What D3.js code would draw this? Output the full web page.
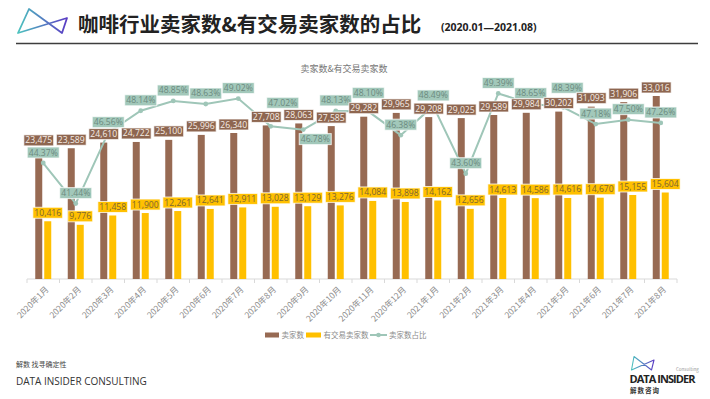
<!DOCTYPE html>
<meta charset="utf-8">
<style>
    body { margin: 0; background: #fff; font-family: 'Noto Sans CJK SC', 'Open Sans', sans-serif; }
    .lbl text { font-size: 8.6px; font-family: 'Open Sans', sans-serif; }
</style>
<svg width="710" height="399"></svg>
<script src="https://cdn.jsdelivr.net/npm/d3@7/dist/d3.min.js"></script>
<script>
    // data
    var months = ["2020年1月","2020年2月","2020年3月","2020年4月","2020年5月","2020年6月","2020年7月","2020年8月","2020年9月","2020年10月",
                  "2020年11月","2020年12月","2021年1月","2021年2月","2021年3月","2021年4月","2021年5月","2021年6月","2021年7月","2021年8月"];
    var sellers = [23475,23589,24610,24722,25100,25996,26340,27708,28063,27585,29282,29965,29208,29025,29589,29984,30202,31093,31906,33016];
    var traded  = [10416,9776,11458,11900,12261,12641,12911,13028,13129,13276,14084,13898,14162,12656,14613,14586,14616,14670,15155,15604];
    var ratio   = [44.37,41.44,46.56,48.14,48.85,48.63,49.02,47.02,46.78,48.13,48.10,46.38,48.49,43.60,49.39,48.65,48.39,47.18,47.50,47.26];

    var svg = d3.select("svg");
    var brown = "#976A53", yellow = "#FFC000", teal = "#9FC6B8";

    // header
    var grad = svg.append("defs").append("linearGradient").attr("id", "lg");
    grad.append("stop").attr("offset", "0%").attr("stop-color", "#4CC3BE");
    grad.append("stop").attr("offset", "100%").attr("stop-color", "#5B3CC4");
    function bowtie(g, tl, bl, rt, rb, w) {
        g.append("path")
            .attr("d", "M" + bl + "L" + tl + "L" + rb + "L" + rt + "Z")
            .attr("fill", "none").attr("stroke", "url(#lg)").attr("stroke-width", w)
            .attr("stroke-linejoin", "round");
    }
    bowtie(svg, [29, 9], [18, 33], [67, 18], [62, 33], 1.8);

    svg.append("text").attr("x", 78).attr("y", 32)
        .attr("font-size", "20.5px").attr("font-weight", "bold").attr("fill", "#222")
        .text("咖啡行业卖家数&有交易卖家数的占比");
    svg.append("text").attr("x", 441).attr("y", 31)
        .attr("font-size", "10.5px").attr("font-weight", "bold").attr("fill", "#222")
        .attr("font-family", "Open Sans")
        .text("(2020.01—2021.08)");
    svg.append("line").attr("x1", 16).attr("x2", 698).attr("y1", 43.5).attr("y2", 43.5)
        .attr("stroke", "#3d3d3d").attr("stroke-width", 1.5);

    svg.append("text").attr("x", 344).attr("y", 72).attr("text-anchor", "middle")
        .attr("font-size", "9px").attr("fill", "#777").text("卖家数&有交易卖家数");

    // scales
    var x0 = d3.scaleBand().domain(months).range([27, 677]).paddingInner(0.508).paddingOuter(0.254);
    var x1 = d3.scaleBand().domain(["s", "t"]).range([0, x0.bandwidth()]).paddingInner(0.222);
    var y = d3.scaleLinear().domain([0, 35000]).range([279, 85]);
    var yR = d3.scaleLinear().domain([36, 50]).range([279, 85]);
    var cx = function(i) { return x0(months[i]) + x0.bandwidth() / 2; };

    // x axis
    var ax = svg.append("g").attr("transform", "translate(0,279)");
    ax.append("line").attr("x1", 27).attr("x2", 677).attr("stroke", "#d9d9d9");
    ax.selectAll("line.tk").data(d3.range(months.length + 1)).enter().append("line")
        .attr("class", "tk")
        .attr("x1", function(i) { return 27 + i * x0.step(); })
        .attr("x2", function(i) { return 27 + i * x0.step(); })
        .attr("y2", 4).attr("stroke", "#d9d9d9");
    ax.selectAll("text").data(months).enter().append("text")
        .attr("transform", function(d, i) { return "translate(" + (cx(i) + 4) + ",9) rotate(-45)"; })
        .attr("text-anchor", "end").attr("dy", "0.35em")
        .attr("font-size", "8.5px").attr("fill", "#8c8c8c")
        .text(function(d) { return d; });

    // bars
    svg.append("g").selectAll("rect").data(sellers).enter().append("rect")
        .attr("x", function(d, i) { return x0(months[i]) + x1("s"); })
        .attr("y", function(d) { return y(d); })
        .attr("width", x1.bandwidth())
        .attr("height", function(d) { return 279 - y(d); })
        .attr("fill", brown);
    svg.append("g").selectAll("rect").data(traded).enter().append("rect")
        .attr("x", function(d, i) { return x0(months[i]) + x1("t"); })
        .attr("y", function(d) { return y(d); })
        .attr("width", x1.bandwidth())
        .attr("height", function(d) { return 279 - y(d); })
        .attr("fill", yellow);

    // ratio line
    var line = d3.line().x(function(d, i) { return cx(i); }).y(function(d) { return yR(d); });
    svg.append("path").datum(ratio).attr("d", line)
        .attr("fill", "none").attr("stroke", teal).attr("stroke-width", 2);
    svg.append("g").selectAll("circle").data(ratio).enter().append("circle")
        .attr("cx", function(d, i) { return cx(i); })
        .attr("cy", function(d) { return yR(d); })
        .attr("r", 2.4).attr("fill", teal);

    // labels
    function label(g, px, py, txt, fill, color) {
        var l = g.append("g").attr("class", "lbl");
        var t = l.append("text").attr("x", px).attr("y", py).attr("dy", "0.35em")
            .attr("text-anchor", "middle").attr("fill", color).text(txt);
        var w = t.node().getComputedTextLength() + 3;
        l.insert("rect", "text").attr("x", px - w / 2).attr("y", py - 5.5)
            .attr("width", w).attr("height", 11)
            .attr("fill", fill).attr("stroke", "rgba(255,255,255,0.75)").attr("stroke-width", 1);
    }
    var fmt = d3.format(",");
    // manual nudges where labels would collide (index: [dx, dy])
    var pctNudge = {7: [12, -13], 8: [12, 20], 10: [0, -8], 16: [4, -9]};
    var lg = svg.append("g");
    ratio.forEach(function(d, i) {
        var n = pctNudge[i] || [0, 0];
        label(lg, cx(i) + n[0], yR(d) - 10.5 + n[1], d.toFixed(2) + "%", "#A2C8BA", "#6c8a7f");
    });
    sellers.forEach(function(d, i) {
        label(lg, x0(months[i]) + x1("s") + x1.bandwidth() / 2, y(d) - 8.5, fmt(d), "#8E6650", "#f6ede6");
    });
    traded.forEach(function(d, i) {
        label(lg, x0(months[i]) + x1("t") + x1.bandwidth() / 2, y(d) - 8.5, fmt(d), "#FFC000", "#7d6630");
    });

    // legend
    var leg = svg.append("g").attr("font-size", "7.5px").attr("fill", "#8c8c8c");
    leg.append("rect").attr("x", 265).attr("y", 332.5).attr("width", 14).attr("height", 5).attr("fill", brown);
    leg.append("text").attr("x", 281.5).attr("y", 335).attr("dy", "0.35em").text("卖家数");
    leg.append("rect").attr("x", 306).attr("y", 332.5).attr("width", 15).attr("height", 5).attr("fill", yellow);
    leg.append("text").attr("x", 323.5).attr("y", 335).attr("dy", "0.35em").text("有交易卖家数");
    leg.append("line").attr("x1", 370).attr("x2", 387).attr("y1", 335).attr("y2", 335).attr("stroke", teal).attr("stroke-width", 2);
    leg.append("circle").attr("cx", 378.5).attr("cy", 335).attr("r", 2.3).attr("fill", teal);
    leg.append("text").attr("x", 389).attr("y", 335).attr("dy", "0.35em").text("卖家数占比");

    // footer
    svg.append("text").attr("x", 16).attr("y", 367).attr("font-size", "7px").attr("fill", "#444").text("解数 找寻确定性");
    svg.append("text").attr("x", 16).attr("y", 385).attr("font-size", "10px").attr("fill", "#333")
        .attr("font-family", "Open Sans").text("DATA INSIDER CONSULTING");

    var logo = svg.append("g");
    bowtie(logo, [634, 356.5], [631.5, 370], [654, 360], [651.5, 370], 1.1);
    logo.append("text").attr("x", 676).attr("y", 371).attr("font-size", "4.5px").attr("fill", "#999").text("Consulting");
    logo.append("text").attr("x", 629.5).attr("y", 383).attr("font-size", "11px").attr("font-weight", "bold")
        .attr("fill", "#222").attr("font-family", "Open Sans").attr("textLength", 66).text("DATA INSIDER");
    logo.append("text").attr("x", 630).attr("y", 393).attr("font-size", "6.5px").attr("font-weight", "bold")
        .attr("fill", "#333").attr("letter-spacing", "1px").text("解数咨询");
</script>
